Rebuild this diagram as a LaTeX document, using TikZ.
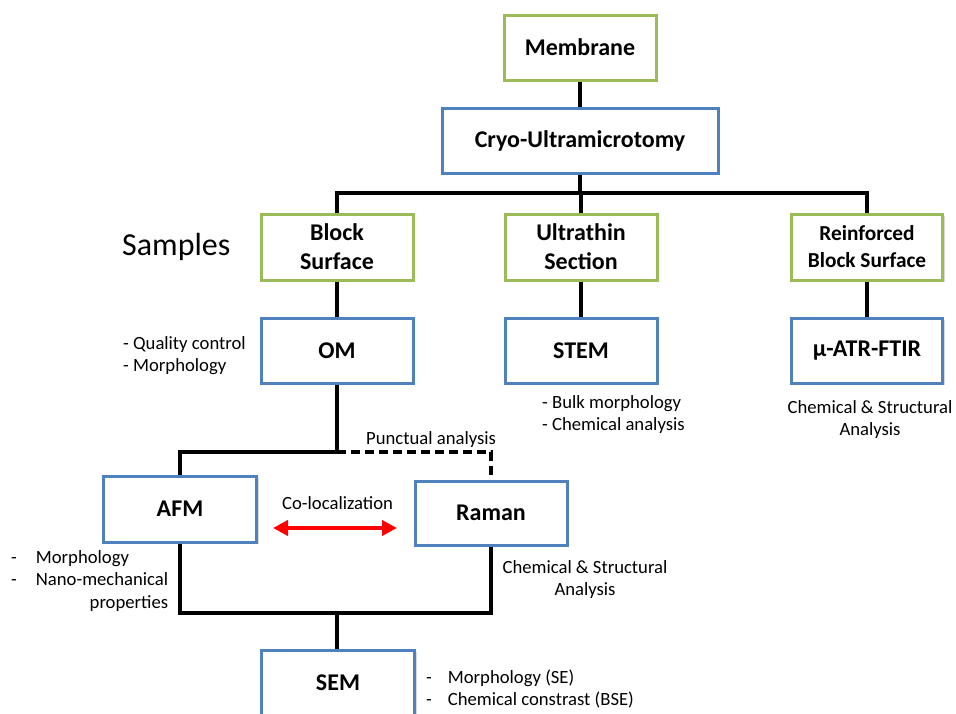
\documentclass[tikz,border=0pt]{standalone}
\usepackage{fontspec}
\setmainfont{Carlito}
\usetikzlibrary{arrows.meta,shadows}
\definecolor{bgreen}{HTML}{9BBB59}
\definecolor{bblue}{HTML}{4F81BD}
\begin{document}
\begin{tikzpicture}[x=1pt,y=-1pt,
  box/.style={draw, line width=3pt, fill=white, minimum width=152pt, minimum height=65pt,
    align=center, inner sep=0pt, font=\fontsize{24}{29}\selectfont\bfseries,
    drop shadow={shadow xshift=2pt, shadow yshift=-2pt, opacity=0.3}},
  gbox/.style={box, draw=bgreen},
  bbox/.style={box, draw=bblue},
  conn/.style={line width=4pt, black},
  note/.style={inner sep=0pt, font=\fontsize{18.67}{22.5}\selectfont},
]
\useasboundingbox (0,0) rectangle (956,713);

% boxes
\node[gbox] (memb) at (580,47.5) {Membrane};
\node[bbox, minimum width=276pt] (cryo) at (580,140.5) {Cryo-Ultramicrotomy};
\node[gbox, minimum height=66pt] (block) at (337,247) {Block\\Surface};
\node[gbox, minimum height=66pt] (ultra) at (581,247) {Ultrathin\\Section};
\node[gbox, minimum height=66pt, minimum width=151pt, font=\fontsize{21.33}{27}\selectfont\bfseries] (reinf) at (867,247) {Reinforced\\Block Surface};
\node[bbox] (om) at (337,350.5) {OM};
\node[bbox] (stem) at (581,350.5) {STEM};
\node[bbox, minimum width=151pt] (ftir) at (867,350.5) {µ-ATR-FTIR};
\node[bbox, minimum height=66pt, minimum width=153pt] (afm) at (180,509) {AFM};
\node[bbox, minimum height=64pt] (raman) at (491,513) {Raman};
\node[bbox, minimum width=153pt] (sem) at (338,682.5) {SEM};

% connectors
\coordinate (bar) at (580,193);
\coordinate (split) at (337,452);
\coordinate (join) at (337,613);
\draw[conn] (memb.south) -- (cryo.north);
\draw[conn] (cryo.south) -- (bar);
\draw[conn] (block.north) -- (block.north |- bar) -- (reinf.north |- bar) -- (reinf.north);
\draw[conn] (ultra.north) -- (ultra.north |- bar);
\draw[conn] (block.south) -- (om.north);
\draw[conn] (ultra.south) -- (stem.north);
\draw[conn] (reinf.south) -- (ftir.north);
\draw[conn] (om.south) -- (split) -- (split -| afm.north) -- (afm.north);
\draw[conn, dash pattern=on 9pt off 5pt] (split) -- (split -| raman.north) -- (raman.north);
\draw[conn] (afm.south) -- (afm.south |- join) -- (join -| raman.south) -- (raman.south);
\draw[conn] (join) -- (join |- sem.north);

% co-localization arrow
\coordinate (cl) at (273,528);
\coordinate (cr) at (397,528);
\draw[line width=4pt, red, {Triangle[length=15pt,width=15pt]}-{Triangle[length=15pt,width=15pt]}] (cl) -- (cr);

% texts
\node[note, font=\fontsize{32}{38}\selectfont, anchor=base west] (samples) at (122,255) {Samples};
\node[note, anchor=north west] (omnote) at (123,333.25) {\begin{tabular}{@{}l@{}}- Quality control\\- Morphology\end{tabular}};
\node[note, anchor=north west] (stemnote) at (542,392.25) {\begin{tabular}{@{}l@{}}- Bulk morphology\\- Chemical analysis\end{tabular}};
\node[note, anchor=north] (ftirnote) at (870,397.25) {\begin{tabular}{@{}c@{}}Chemical \& Structural\\Analysis\end{tabular}};
\node[note, anchor=base west] (punct) at (366,444) {Punctual analysis};
\node[note, anchor=base west] (coloc) at (282,509) {Co-localization};
\node[note, anchor=north west] (afmnote) at (11,547.25) {\begin{tabular}{@{}l@{\hspace{19pt}}l@{}}-&Morphology\\-&Nano-mechanical\\&\hfill properties\end{tabular}};
\node[note, anchor=north] (ramannote) at (585,557.25) {\begin{tabular}{@{}c@{}}Chemical \& Structural\\Analysis\end{tabular}};
\node[note, anchor=north west] (semnote) at (426,667.25) {\begin{tabular}{@{}l@{\hspace{16pt}}l@{}}-&Morphology (SE)\\-&Chemical constrast (BSE)\end{tabular}};
\end{tikzpicture}
\end{document}
